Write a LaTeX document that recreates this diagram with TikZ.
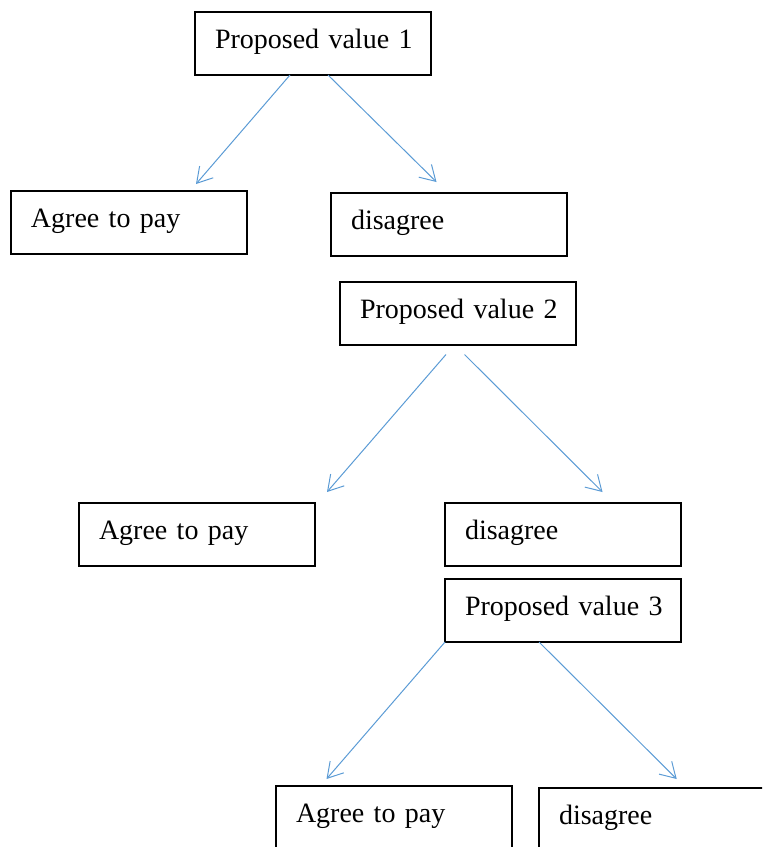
\documentclass[tikz,border=0pt]{standalone}
\usepackage{fontspec}
\setmainfont{Liberation Serif}
\usetikzlibrary{arrows.meta}
\definecolor{lineblue}{RGB}{91,155,213}

\begin{document}
\begin{tikzpicture}[x=0.5pt,y=-0.5pt,
    box/.style={draw,line width=0.75pt,anchor=north west,outer sep=0pt,
      minimum width=118pt,minimum height=31.5pt,text width=98pt,inner xsep=10pt,
      align=left,text height=8pt,text depth=3.3pt,font=\fontsize{14}{17}\selectfont,
      execute at begin node={\hbox\bgroup},execute at end node={\egroup}},
    link/.style={lineblue,line width=0.5pt},
    >={Straight Barb[length=7.5pt,width=9pt]}]
    \clip (0,0) rectangle (762,847);

    % Question boxes
    \node at (195,12) [box] (p1) {Proposed value 1};
    \node at (340,282) [box] (p2) {Proposed value 2};
    \node at (445,579) [box] (p3) {Proposed value 3};

    % Answer boxes
    \node at (11,191) [box] (a1) {Agree to pay};
    \node at (331,193) [box] (d1) {disagree};
    \node at (79,503) [box] (a2) {Agree to pay};
    \node at (445,503) [box] (d2) {disagree};
    \node at (276,786) [box] (a3) {Agree to pay};
    \node at (539,788) [box] (d3) {disagree};

    % Arrows
    \draw[->,link] ([xshift=-11.5pt]p1.south) to ([xshift=33.5pt,yshift=3.5pt]a1.north);
    \draw[->,link] ([xshift=7.5pt]p1.south) to ([xshift=-6.25pt,yshift=5.5pt]d1.north);
    \draw[->,link] ([xshift=-6pt,yshift=-4.75pt]p2.south) to ([xshift=6pt,yshift=5.5pt]a2.north east);
    \draw[->,link] ([xshift=3.25pt,yshift=-4.75pt]p2.south) to ([xshift=19.75pt,yshift=5.5pt]d2.north);
    \draw[->,link] (p3.south west) to ([xshift=-33.75pt,yshift=3.5pt]a3.north);
    \draw[->,link] ([xshift=-12pt]p3.south) to ([xshift=68.85pt,yshift=4.5pt]d3.north west);
\end{tikzpicture}
\end{document}
